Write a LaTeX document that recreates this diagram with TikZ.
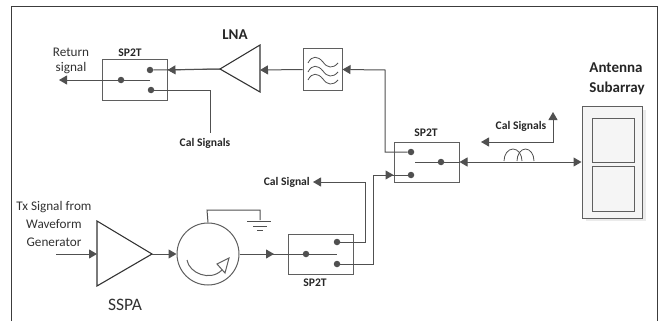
\documentclass[tikz,border=0pt]{standalone}
\usepackage{fontspec}
\setmainfont{Carlito}
\usepackage{xcolor}
\usetikzlibrary{arrows.meta,calc}
\definecolor{wireink}{RGB}{80,80,80}
\definecolor{boxink}{RGB}{95,95,95}
\definecolor{frameink}{RGB}{60,60,60}
\definecolor{textink}{RGB}{50,50,50}
\definecolor{panelfill}{RGB}{245,245,245}
\definecolor{shadeink}{RGB}{235,235,235}
\tikzset{
    wire/.style={wireink, line width=1pt, -{Triangle[length=8pt,width=9pt]}},
    bothwire/.style={wireink, line width=1pt, {Triangle[length=8pt,width=9pt]}-{Triangle[length=8pt,width=9pt]}},
    plainwire/.style={wireink, line width=1pt},
    thinwire/.style={wireink, line width=0.8pt},
    contact/.style={circle, fill=wireink, inner sep=0pt, minimum size=6.5pt},
    switchbox/.style={draw=boxink, line width=1pt, minimum width=65pt, minimum height=40pt, inner sep=0pt},
    amp/.style={draw=black!80, line width=1.1pt, line join=miter},
    lbl/.style={text=textink, font=\fontsize{13.2}{13.2}\selectfont, inner sep=0pt},
    boldlbl/.style={text=black!85, font=\fontsize{11.6}{11.6}\selectfont\bfseries, inner sep=0pt},
    biglbl/.style={text=black!85, font=\fontsize{15}{15}\selectfont\bfseries, inner sep=0pt}
}
\begin{document}
\begin{tikzpicture}[x=1pt,y=-1pt]
    \useasboundingbox (0,0) rectangle (658,321);
    % Frame
    \draw[frameink, line width=1pt] (11.5,321) -- (11.5,6.5) -- (657,6.5) -- (657,321);

    % Return switch
    \node[switchbox] (swret) at (134.5,80) {};
    \node[contact] (swretA) at (150,70) {};
    \node[contact] (swretB) at (151,90) {};
    \node[contact] (swretP) at (121,80) {};
    \coordinate (swretT) at (150,80);
    \node[boldlbl] (swretL) at (130,53) {SP2T};

    % Antenna switch
    \node[switchbox] (swant) at (426.5,162) {};
    \node[contact] (swantA) at (411,152) {};
    \node[contact] (swantB) at (411,175) {};
    \node[contact] (swantP) at (441,162) {};
    \coordinate (swantT) at (415,162);
    \node[boldlbl] (swantL) at (426,133) {SP2T};

    % Tx switch
    \node[switchbox] (swtx) at (321,254) {};
    \node[contact] (swtxA) at (337,242) {};
    \node[contact] (swtxB) at (337,264) {};
    \node[contact] (swtxP) at (306,254) {};
    \coordinate (swtxT) at (337,254);
    \node[boldlbl] (swtxL) at (315,283) {SP2T};

    % LNA
    \draw[amp] (220,69) coordinate (lnaout) -- (260,45) -- (260,92) -- cycle;
    \coordinate (lnain) at (260,70);
    \node[biglbl] (lnaL) at (235,35) {LNA};

    % Filter
    \node[draw=boxink, line width=1pt, minimum width=39pt, minimum height=41pt, inner sep=0pt] (filt) at (322.5,69.5) {};
    \foreach \yy in {0,9,17} {
        \draw[thinwire] (308,63+\yy) .. controls (312,55+\yy) and (318,56+\yy) .. (323,62+\yy)
            .. controls (327,68+\yy) and (333,69+\yy) .. (338,63+\yy);
    }

    % Antenna
    \fill[shadeink] (586,110) rectangle (646,221);
    \node[draw=boxink, line width=1pt, fill=panelfill, minimum width=60.5pt, minimum height=112pt, inner sep=0pt] (ant) at (612.25,162) {};
    \node[draw=boxink, line width=1pt, fill=panelfill, minimum width=42pt, minimum height=44pt, inner sep=0pt] (panelA) at (613,140) {};
    \node[draw=boxink, line width=1pt, fill=panelfill, minimum width=42pt, minimum height=45pt, inner sep=0pt] (panelB) at (613,188.5) {};
    \node[biglbl] (antA) at (616,68) {Antenna};
    \node[biglbl] (antB) at (617,88) {Subarray};

    % SSPA
    \draw[amp] (97,221) coordinate (ssTop) -- (152,254) coordinate (ssout) -- (97,286) -- cycle;
    \coordinate (ssin) at (97,254);
    \node[text=textink, font=\fontsize{17.5}{17.5}\selectfont, inner sep=0pt] (ssL) at (125,305) {SSPA};

    % Circulator
    \node[circle, draw=boxink, line width=1pt, minimum size=62pt, inner sep=0pt] (circ) at (208,254) {};
    \draw[boxink, line width=1pt] (187,260) .. controls (189,273) and (210,282) .. (222,270);
    \draw[boxink, line width=1pt, fill=white] (217,264) -- (229,258) -- (225,273) -- cycle;

    % Ground
    \coordinate (gnd) at (260,220);
    \draw[plainwire] (circ.north) -- (207,210) -- (260,210) -- (gnd);
    \draw[plainwire] (247,221) -- (271,221);
    \draw[plainwire] (253,226) -- (267,226);
    \draw[plainwire] (257,230) -- (263,230);

    % Inductor
    \draw[thinwire] (504,161) arc (180:360:9 and 12);
    \draw[thinwire] (517,161) arc (180:360:8.5 and 12);

    % Labels
    \node[lbl] (retA) at (71,52) {Return};
    \node[lbl] (retB) at (71,68) {signal};
    \node[boldlbl] (calA) at (205,143) {Cal Signals};
    \node[boldlbl] (calB) at (521,126) {Cal Signals};
    \node[boldlbl, anchor=east] (calC) at (310,182) {Cal Signal};
    \node[lbl] (txA) at (54,207) {Tx Signal from};
    \node[lbl] (txB) at (54,224) {Waveform};
    \node[lbl] (txC) at (54,242) {Generator};

    % Return path
    \coordinate (retout) at (59,80);
    \draw[wire] (swretT) -- (swretP) -- (retout);
    \draw[plainwire] (lnaout) -- (swretA);
    \draw[wire] (lnaout) -- (swret.east |- swretA);
    \draw[wire] (filt.west) -- (lnain);
    \draw[plainwire] (swretB) -- (210,90) -- (210,133);
    \draw[wire] (swantA) -- (385,152) -- (385,70) -- (filt.east);

    % Antenna path
    \draw[plainwire] (swantT) -- (swantP) -- (swant.east);
    \draw[bothwire] (swant.east) -- (ant.west |- swant.east);
    \coordinate (calE) at (481,142);
    \coordinate (calN) at (553,112);
    \draw[bothwire] (calE) -- (553,142) -- (calN);

    % Tx path
    \coordinate (txstart) at (56,254);
    \draw[wire] (txstart) -- (ssin);
    \draw[wire] (ssout) -- (circ.west);
    \draw[wire] (circ.east) -- (274,254);
    \draw[plainwire] (circ.east) -- (swtxP) -- (swtxT);
    \draw[wire] (swtxA) -- (365,242) -- (365,182) -- ([xshift=3pt]calC.east);
    \draw[plainwire] (swtxB) -- (373,264) -- (373,175) -- (swantB);
    \draw[wire] (373,175) -- (swant.west |- swantB);
\end{tikzpicture}
\end{document}
